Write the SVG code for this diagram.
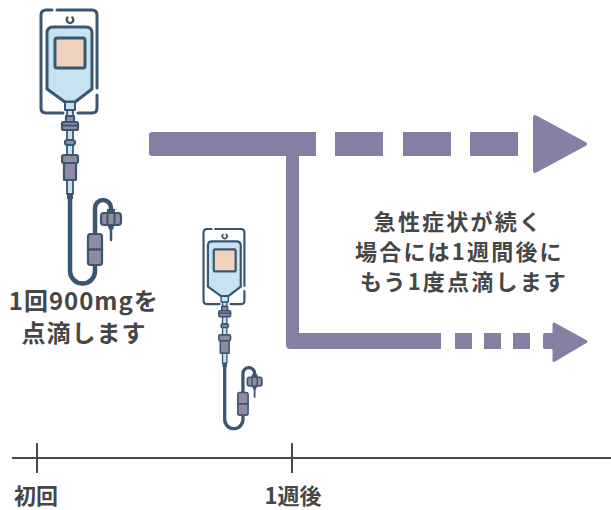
<svg xmlns="http://www.w3.org/2000/svg" xmlns:xlink="http://www.w3.org/1999/xlink" width="611" height="510" viewBox="0 0 611 510">
  <style>
    .ln { fill: none; stroke: #3b5670; stroke-linecap: round; stroke-linejoin: round; }
    .part { fill: #8f8ba1; stroke: #3b5670; stroke-width: 2.2; stroke-linejoin: round; }
    .blue { fill: #c6e3f2; stroke: #3b5670; stroke-linejoin: round; }
    .arrow { fill: #8580a3; }
    .txt { font-family: "Noto Sans CJK JP", "Noto Sans", sans-serif; font-weight: 700; fill: #464646; }
    .axis { stroke: #4a4a4a; stroke-width: 2; fill: none; }
  </style>
  <defs>
    <!-- IV drip bag with tubing, drawn at full size -->
    <g id="drip">
      <!-- hanger frame -->
      <path class="ln" stroke-width="3" d="M57,10 H92 Q97,10 97,15 V88 M97,95 V108 Q97,113 92,113 H78 M63,113 H46 Q41,113 41,108 V15 Q41,10 46,10 H52"/>
      <!-- hook -->
      <path class="ln" stroke-width="2.4" d="M67.5,17.6 A3.3,3.3 0 1 0 72.3,17.4"/>
      <!-- bag -->
      <path class="blue" stroke-width="3" d="M53,27 H86 Q92,27 92,33 V89 L75,102 H65 L47,89 V33 Q47,27 53,27 Z"/>
      <!-- label -->
      <rect x="55" y="38" width="30" height="30" rx="2" fill="#f0d3be" stroke="#3b5670" stroke-width="3"/>
      <!-- neck and drip chamber tube -->
      <rect class="blue" x="67" y="110" width="6" height="84" stroke-width="1.8"/>
      <rect class="blue" x="65" y="102" width="10" height="8" stroke-width="2"/>
      <rect class="part" x="66" y="116" width="8" height="6"/>
      <rect class="part" x="62" y="122" width="16" height="8" rx="1.5" stroke-width="2.5"/>
      <line class="ln" x1="62" y1="125.5" x2="78" y2="125.5" stroke-width="2"/>
      <rect class="part" x="65" y="140" width="10" height="5" rx="2.5"/>
      <rect class="part" x="62" y="155" width="16" height="8" rx="2" stroke-width="2.5"/>
      <rect class="part" x="64" y="163" width="12" height="17" stroke-width="2.5"/>
      <rect x="67" y="193" width="6" height="6" fill="#3b5670"/>
      <!-- tubing -->
      <path class="ln" stroke-width="4.5" d="M70,197 V271 A12.5,12.5 0 0 0 95,271 V265"/>
      <path class="ln" stroke-width="4.5" d="M95,234 V208 A8,8 0 0 1 111,208 V212"/>
      <!-- inline connector -->
      <rect class="part" x="88" y="234" width="14" height="31" rx="2.5" stroke-width="2.5"/>
      <line class="ln" x1="88" y1="249.5" x2="102" y2="249.5" stroke-width="2.5"/>
      <!-- end fitting -->
      <rect x="107" y="209" width="8" height="4" fill="#3b5670"/>
      <rect class="part" x="101" y="213" width="20" height="12" rx="3"/>
      <line class="ln" x1="107.5" y1="213" x2="107.5" y2="225" stroke-width="2"/>
      <line class="ln" x1="114.5" y1="213" x2="114.5" y2="225" stroke-width="2"/>
      <path d="M107.5,225 L109,229.5 H113 L114.5,225 Z" fill="#3b5670"/>
      <line class="ln" x1="111" y1="229" x2="111" y2="240" stroke-width="2.5"/>
    </g>
  </defs>

  <rect width="611" height="510" fill="#ffffff"/>

  <!-- first infusion -->
  <g id="iv-first">
    <use xlink:href="#drip" href="#drip"/>
  </g>

  <!-- second infusion, one week later -->
  <g id="iv-second">
    <use xlink:href="#drip" href="#drip" transform="translate(173.6,221.7) scale(0.73)"/>
  </g>

  <!-- connectors -->
  <g id="connectors">
    <path class="arrow" d="M152,132 H316 V156 H299 V333 H441 V349 H290 Q286,349 286,345 V156 H152 Q149,156 149,153 V135 Q149,132 152,132 Z"/>
    <rect class="arrow" x="335" y="132" width="48" height="24"/>
    <rect class="arrow" x="403" y="132" width="48" height="24"/>
    <rect class="arrow" x="470" y="132" width="48" height="24"/>
    <path class="arrow" stroke="#8580a3" stroke-width="4" stroke-linejoin="round" d="M535,117 L585,144 L535,171 Z"/>
    <rect class="arrow" x="455" y="333" width="17" height="16"/>
    <rect class="arrow" x="484" y="333" width="17" height="16"/>
    <rect class="arrow" x="513" y="333" width="17" height="16"/>
    <path class="arrow" stroke="#8580a3" stroke-width="3" stroke-linejoin="round" d="M544.5,334.5 H554 V324 L586,341.5 L554,360.5 V347.5 H544.5 Z"/>
  </g>

  <!-- dose notes -->
  <g id="note-first">
    <text class="txt" font-size="24" letter-spacing="1" text-anchor="middle">
      <tspan x="87" y="310">1回900mgを</tspan>
      <tspan x="84" y="342">点滴します</tspan>
    </text>
  </g>
  <g id="note-repeat">
    <text class="txt" font-size="22" letter-spacing="2.2" text-anchor="middle">
      <tspan x="462" y="230">急性症状が続く</tspan>
      <tspan x="463" y="260">場合には1週間後に</tspan>
      <tspan x="464" y="290">もう1度点滴します</tspan>
    </text>
  </g>

  <!-- timeline -->
  <g id="timeline">
    <line class="axis" x1="12" y1="458" x2="611" y2="458"/>
    <line class="axis" x1="37" y1="443" x2="37" y2="473"/>
    <line class="axis" x1="292" y1="443" x2="292" y2="473"/>
    <text class="txt" font-size="22" text-anchor="middle" x="36" y="504">初回</text>
    <text class="txt" font-size="22" text-anchor="middle" x="293" y="504">1週後</text>
  </g>
</svg>
